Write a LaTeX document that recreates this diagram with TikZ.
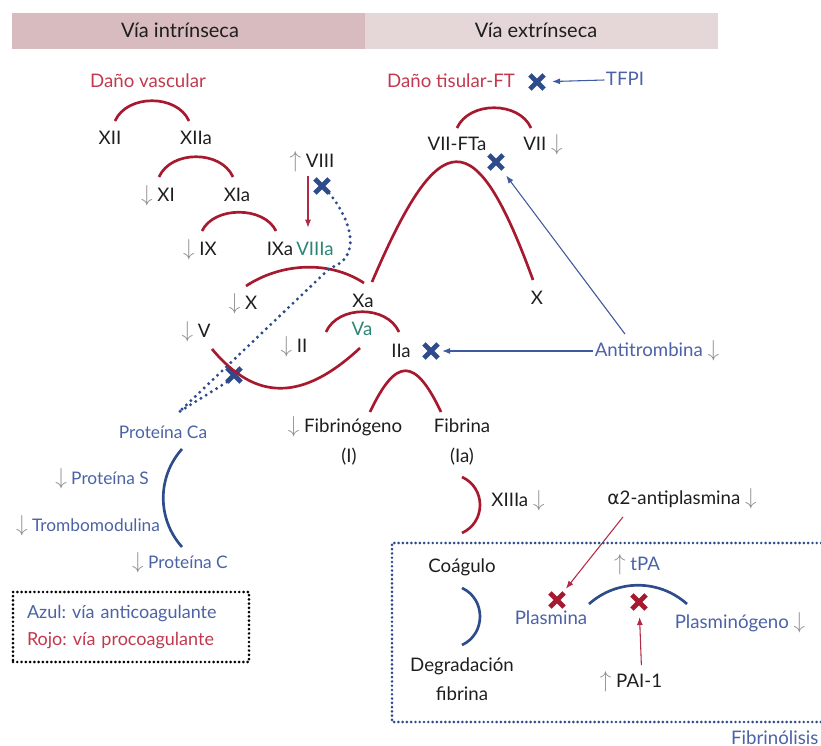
\documentclass[tikz,border=0pt]{standalone}
\usepackage{fontspec}
\setmainfont{Lato}
\newfontfamily\dejavu{DejaVu Sans}
\usepackage{xcolor}
\usepackage{tikz}
\usetikzlibrary{positioning,arrows.meta,calc,shapes.misc}

\definecolor{ink}{HTML}{1E1E1E}
\definecolor{rojo}{HTML}{A6192E}
\definecolor{rojotext}{HTML}{C2384E}
\definecolor{rojofl}{HTML}{B02A45}
\definecolor{azul}{HTML}{2E4C8C}
\definecolor{azultext}{HTML}{4B63A6}
\definecolor{azulfl}{HTML}{3F5B9E}
\definecolor{cofactor}{HTML}{2B8574}
\definecolor{flecha}{HTML}{8E8E8E}
\definecolor{cabA}{HTML}{D7BBBE}
\definecolor{cabB}{HTML}{E5D6D8}

\newcommand{\abajo}{{\color{flecha}\fontsize{16}{16}\selectfont$\downarrow$}}
\newcommand{\arriba}{{\color{flecha}\fontsize{16}{16}\selectfont$\uparrow$}}
\frenchspacing

\begin{document}
\begin{tikzpicture}[x=0.75pt, y=0.75pt,
  lbl/.style={font=\fontsize{14}{16}\selectfont, text=ink, inner sep=1pt, text height=10pt, text depth=1pt},
  prot/.style={lbl, text=azultext, font=\fontsize{13}{15}\selectfont},
  cab/.style={lbl, font=\fontsize{15}{17}\selectfont},
  procoag/.style={draw=rojo, line width=2pt},
  anticoag/.style={draw=azul, line width=2pt},
  inhib/.style={draw=azulfl, line width=0.8pt, -{Latex[length=6pt,width=4.5pt]}, shorten >=4pt},
  activ/.style={draw=rojofl, line width=0.8pt, -{Latex[length=6pt,width=4.5pt]}},
  blq/.style={cross out, draw=azul, line width=3.6pt, minimum size=7pt, inner sep=0pt},
  blqr/.style={blq, draw=rojo},
  punteado/.style={draw=azul, line width=2.5pt, dash pattern=on 0pt off 4.6pt, line cap=round},
  marco/.style={draw=azul, line width=2.2pt, dash pattern=on 0pt off 3.2pt, line cap=round},
  leyenda/.style={draw=black, line width=2.2pt, dash pattern=on 0pt off 3.2pt, line cap=round,
    minimum width=177pt, minimum height=52.5pt, text width=156pt, inner xsep=10.5pt,
    align=left, font=\fontsize{13.5}{20}\selectfont}]
\useasboundingbox (0,0) rectangle (821,746);

% cabeceras
\fill[cabA] (12,697) rectangle (365,733);
\fill[cabB] (365,697) rectangle (718,733);
\node[cab] (intrinseca) at (180,714) {Vía intrínseca};
\node[cab] (extrinseca) at (536,714) {Vía extrínseca};

% via intrinseca
\node[lbl, text=rojotext] (danovasc) at (148,664) {Daño vascular};
\node[lbl] (xii) at (110,607) {XII};
\node[lbl] (xiia) at (196,607) {XIIa};
\node[lbl] (xi) at (158,550) {\abajo\ XI};
\node[lbl] (xia) at (237,550) {XIa};
\node[lbl] (ix) at (200,496) {\abajo\ IX};
\node[lbl] (ixa) at (280,496) {IXa};
\node[lbl, text=cofactor] (viiia) at (315,496) {VIIIa};
\node[lbl] (viii) at (312,584) {\arriba\ VIII};
\node[lbl] (x) at (243,442) {\abajo\ X};
\node[lbl] (xa) at (363,444) {Xa};
\node[lbl] (v) at (196,414) {\abajo\ V};
\node[lbl, text=cofactor] (va) at (362,416) {Va};
\node[lbl] (ii) at (294,399) {\abajo\ II};
\node[lbl] (iia) at (401,394) {IIa};

% via extrinseca
\node[lbl, text=rojotext] (danotis) at (451,664) {Daño tisular-FT};
\node[lbl, text=azultext] (tfpi) at (625,666) {TFPI};
\node[lbl] (viifta) at (457,601) {VII-FTa};
\node[lbl] (vii) at (543,601) {VII \abajo};
\node[lbl] (xext) at (537,447) {X};
\node[lbl, text=azultext] (antitromb) at (657,395) {Antitrombina \abajo};

% via comun
\node[lbl] (fibgen) at (345,319) {\abajo\ Fibrinógeno};
\node[lbl] (fibgenI) at (349,289) {(I)};
\node[lbl] (fibrina) at (462,319) {Fibrina};
\node[lbl] (fibrinaI) at (462,289) {(Ia)};
\node[lbl] (xiiia) at (518,245) {XIIIa \abajo};
\node[lbl] (a2ap) at (682,247) {{\dejavu α}2-antiplasmina \abajo};

% fibrinolisis
\node[lbl] (coagulo) at (462,179) {Coágulo};
\node[lbl] (degrad) at (462,80) {Degradación};
\node[lbl] (degradf) at (462,51) {fibrina};
\node[lbl, text=azultext] (plasmina) at (551,127) {Plasmina};
\node[lbl] (tpa) at (637,181) {\arriba\ {\color{azultext}tPA}};
\node[lbl, text=azultext] (plasgen) at (740,123) {Plasminógeno \abajo};
\node[lbl] (pai) at (631,64) {\arriba\ PAI-1};
\node[lbl, text=azultext, anchor=east] (fibrinolisis) at (820,8) {Fibrinólisis};

% proteina C
\node[prot] (protca) at (163,313) {Proteína Ca};
\node[prot] (prots) at (102,267) {\abajo\ Proteína S};
\node[prot] (trombomod) at (88,220) {\abajo\ Trombomodulina};
\node[prot] (protc) at (180,183) {\abajo\ Proteína C};

\node[leyenda] (leyenda) at (131,119)
  {{\color{azultext}Azul: vía anticoagulante}\\{\color{rojotext}Rojo: vía procoagulante}};

% bloqueos
\node[blq] (bltfpi) at (537,664) {};
\node[blq] (blvii) at (496,584) {};
\node[blq] (bliia) at (431,395) {};
\node[blq] (blviii) at (322,560) {};
\node[blq] (blv) at (234,371) {};
\node[blqr] (blplasmina) at (557,146) {};
\node[blqr] (blpai) at (639,144) {};

% cascada
\draw[procoag] ([shift={(5,18)}]xii.center) .. controls +(12,27) and +(-12,27) .. ([shift={(-7,18)}]xiia.center);
\draw[procoag] ([shift={(1,19)}]xi.center) .. controls +(12,27) and +(-12,27) .. ([shift={(-4,19)}]xia.center);
\draw[procoag] ([shift={(2,19)}]ix.center) .. controls +(12,25) and +(-12,25) .. ([shift={(-4,19)}]ixa.center);
\draw[procoag] ([shift={(3,18)}]x.center) .. controls +(35,23) and +(-35,23) .. ([shift={(1,19)}]xa.center);
\draw[procoag] ([shift={(9,20)}]xa.center) .. controls +(68,159) and +(-58,159) .. ([shift={(-4,19)}]xext.center);
\draw[procoag] ([shift={(0,17)}]viifta.center) .. controls +(12,27) and +(-12,27) .. ([shift={(-12,17)}]vii.center);
\draw[procoag] ([shift={(32,15)}]ii.center) .. controls +(12,27) and +(-12,27) .. ([shift={(-2,20)}]iia.center);
\draw[procoag] ([shift={(16,-17)}]v.center) .. controls +(44,-53) and +(-57,-53) .. ([shift={(-2,-18)}]va.center);
\draw[procoag] ([shift={(25,15)}]fibgen.center) .. controls +(26,55) and +(-26,55) .. ([shift={(-21,15)}]fibrina.center);
\draw[procoag] ([shift={(0,-20)}]fibrinaI.center) .. controls +(24,-11) and +(24,11) .. ([shift={(0,34)}]coagulo.center);
\draw[anticoag] ([shift={(0,-21)}]coagulo.center) .. controls +(24,-11) and +(24,11) .. ([shift={(0,21)}]degrad.center);
\draw[anticoag] ([shift={(19,-16)}]protca.center) .. controls +(-25,-28) and +(-25,28) .. ([shift={(2,16)}]protc.center);
\draw[anticoag] ([shift={(-53,19)}]plasgen.center) .. controls +(-28,25) and +(28,25) .. ([shift={(38,15)}]plasmina.center);

% activaciones e inhibiciones
\draw[activ, shorten <=4pt, shorten >=10pt] ([xshift=-3]viii.south) -- ([xshift=-3]viii.south |- viiia.north);
\draw[activ, shorten >=4pt] ([shift={(-59,-9)}]a2ap.south) -- (blplasmina);
\draw[activ, shorten <=6pt, shorten >=6pt] ([xshift=8]pai.north) -- (blpai);
\draw[inhib, shorten >=6pt] (tfpi.west) -- (bltfpi);
\draw[inhib, shorten >=3pt] (antitromb.west) -- (bliia);
\draw[inhib, shorten >=6pt] ([shift={(-32,8)}]antitromb.north) -- (blvii);

% proteina C activada
\coordinate (codo) at (330,478);
\draw[punteado] (blviii.south east) .. controls (352,525) and (362,488) .. (codo) -- ([shift={(16,21)}]protca.center);
\draw[punteado] (blv.south west) -- ([shift={(16,21)}]protca.center);

\draw[marco] (821,203) -- (392,203) -- (392,24) -- (821,24);
\end{tikzpicture}
\end{document}
